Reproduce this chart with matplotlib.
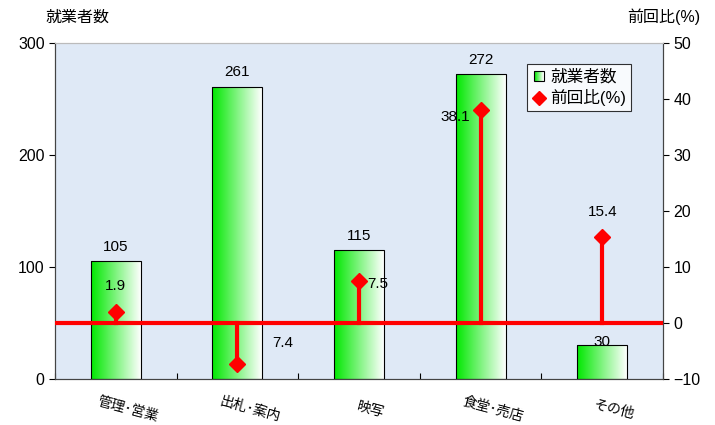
import numpy as np
import matplotlib
matplotlib.use('Agg')
from matplotlib import pyplot as plt
from matplotlib.patches import Rectangle
from matplotlib.lines import Line2D
from matplotlib.legend_handler import HandlerBase

plt.rcParams['font.family'] = ['Liberation Sans', 'Noto Sans CJK JP', 'DejaVu Sans']

# Data
categories = ['管理･営業', '出札･案内', '映写', '食堂･売店', 'その他']
workers = [105, 261, 115, 272, 30]
ratio = [1.9, -7.4, 7.5, 38.1, 15.4]
ratio_labels = ['1.9', '7.4', '7.5', '38.1', '15.4']

fig = plt.figure(figsize=(7.15, 4.25), dpi=100)
ax = fig.add_axes([55 / 715, 46 / 425, 608 / 715, 336 / 425])
ax2 = ax.twinx()

ax.set_facecolor('#dfe9f6')
ax.set_xlim(-0.5, 4.5)
ax.set_ylim(0, 300)
ax2.set_ylim(-10, 50)

# Gradient bars
grad = np.linspace(0, 1, 256).reshape(1, -1)
cmap = matplotlib.colors.LinearSegmentedColormap.from_list('g', ['#00e800', '#ffffff'])
width = 0.41
x = np.arange(len(categories))
for xi, h in zip(x, workers):
    im = ax.imshow(grad, cmap=cmap, aspect='auto', extent=(xi - width / 2, xi + width / 2, 0, h), zorder=2)
    rect = Rectangle((xi - width / 2, 0), width, h, fill=False, edgecolor='black', linewidth=0.8, zorder=3)
    ax.add_patch(rect)
    im.set_clip_path(rect)
    off = 3 if h < 50 else 13
    ax.text(xi, h + off, str(h), ha='center', va='center', fontsize=11, zorder=4)
ax.set_aspect('auto')

# Ratio stems
ax2.axhline(0, color='#ff0000', linewidth=3, zorder=4)
for xi, r in zip(x, ratio):
    ax2.plot([xi, xi], [0, r], color='#ff0000', linewidth=3, zorder=4)
ax2.plot(x, ratio, linestyle='none', marker='D', markersize=8, color='#ff0000', zorder=5)

# label positions (x offset, y value, ha)
offsets = [(0, 6.6, 'center'), (0.29, -3.6, 'left'), (0.07, 7.0, 'left'),
           (-0.09, 36.8, 'right'), (0, 19.8, 'center')]
for xi, lab, (dx, yy, ha) in zip(x, ratio_labels, offsets):
    ax2.text(xi + dx, yy, lab, ha=ha, va='center', fontsize=11, zorder=6)

# Axes styling
ax.set_xticks(np.arange(-0.5, 5, 1))
ax.set_xticklabels([])
ax.tick_params(axis='x', length=4, direction='in')
for xi, c in zip(x, categories):
    ax.text(xi + 0.1, -0.09, c, transform=ax.get_xaxis_transform(), rotation=-15,
            ha='center', va='center', fontsize=10, rotation_mode='anchor')

ax.set_yticks([0, 100, 200, 300])
ax2.set_yticks([-10, 0, 10, 20, 30, 40, 50])
ax.tick_params(axis='y', labelsize=11.5, length=4)
ax2.tick_params(axis='y', labelsize=11.5, length=4)
for a in (ax, ax2):
    for s in a.spines.values():
        s.set_color('#444444')
ax.spines['top'].set_color('#bbbbbb')
ax2.spines['top'].set_color('#bbbbbb')

fig.text(45 / 715, 1 - 17 / 425, '就業者数', fontsize=11.5, ha='left', va='center')
fig.text(700 / 715, 1 - 17 / 425, '前回比(%)', fontsize=11.5, ha='right', va='center')


# Legend
class GradientBoxHandler(HandlerBase):
    def create_artists(self, legend, orig_handle, xdescent, ydescent, width, height, fontsize, trans):
        s = height * 0.85
        x0 = xdescent + (width - s) / 2
        y0 = -ydescent + (height - s) / 2
        arts = []
        n = 10
        for i in range(n):
            arts.append(Rectangle((x0 + s * i / n, y0), s / n, s, facecolor=cmap(i / (n - 1)),
                                  edgecolor='none', transform=trans))
        arts.append(Rectangle((x0, y0), s, s, fill=False, edgecolor='black', linewidth=0.8,
                              transform=trans))
        return arts


bar_handle = Rectangle((0, 0), 1, 1)
ratio_handle = Line2D([], [], linestyle='none', marker='D', markersize=7, color='#ff0000')
leg = ax2.legend([bar_handle, ratio_handle], ['就業者数', '前回比(%)'],
                 handler_map={Rectangle: GradientBoxHandler()},
                 loc='upper left', bbox_to_anchor=(472 / 608, 1 - 21 / 336),
                 fontsize=12, frameon=True, fancybox=False, handlelength=0.8, handletextpad=0.3,
                 borderpad=0.3, labelspacing=0.3, borderaxespad=0)
leg.get_frame().set_edgecolor('black')
leg.get_frame().set_linewidth(0.8)
leg.set_zorder(10)

fig.savefig('out.png', dpi=100)
